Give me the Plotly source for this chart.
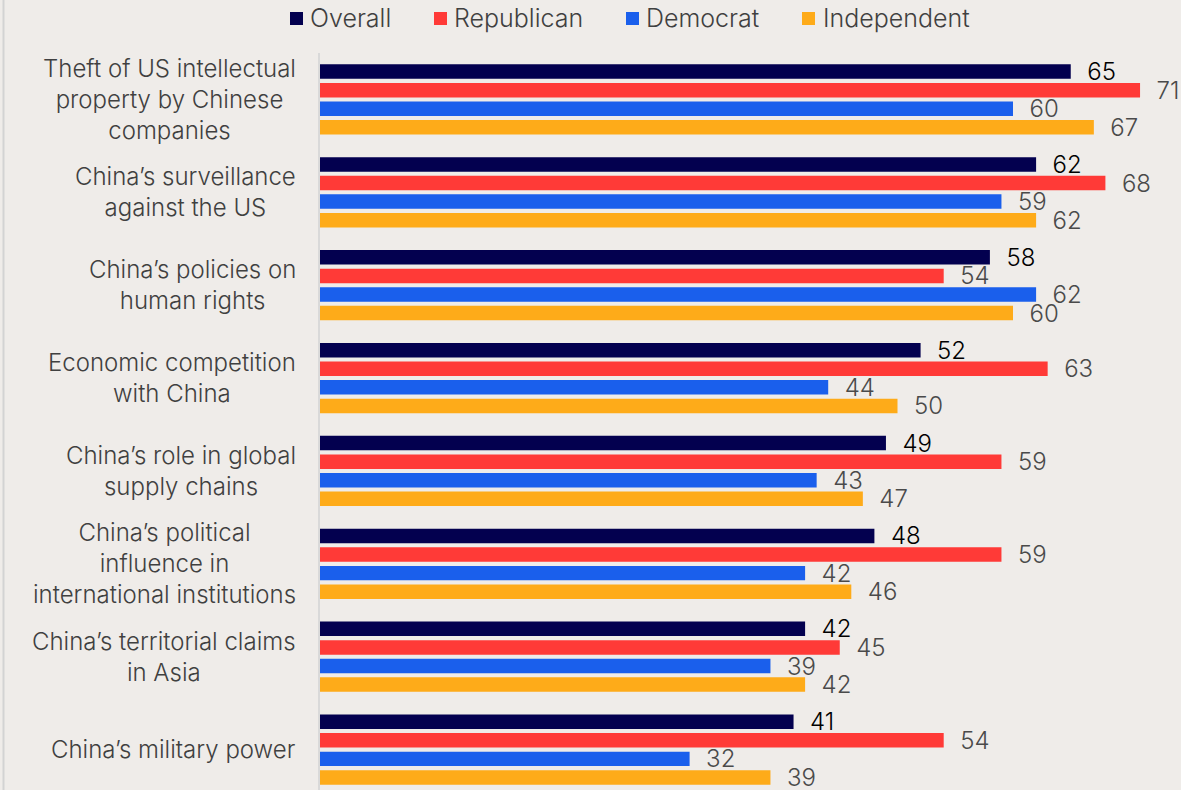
import plotly.graph_objects as go

# Survey results: share (%) seeing each issue as a major concern
categories = [
    "Theft of US intellectual<br>property by Chinese<br>companies",
    "China’s surveillance<br>against the US",
    "China’s policies on<br>human rights",
    "Economic competition<br>with China",
    "China’s role in global<br>supply chains",
    "China’s political<br>influence in<br>international institutions",
    "China’s territorial claims<br>in Asia",
    "China’s military power",
]
overall = [65, 62, 58, 52, 49, 48, 42, 41]
republican = [71, 68, 54, 63, 59, 59, 45, 54]
democrat = [60, 59, 62, 44, 43, 42, 39, 32]
independent = [67, 62, 60, 50, 47, 46, 42, 39]

series_names = ["Overall", "Republican", "Democrat", "Independent"]
series_values = [overall, republican, democrat, independent]
series_colors = ["#03004F", "#FF3A37", "#1A5FEC", "#FEAB19"]
label_colors = ["#000000", "#4A4A4A", "#4A4A4A", "#4A4A4A"]

FONT = "Inter"
WEIGHT = 300
BG = "#EFECE9"

W, H = 1181, 790
M_L, M_T = 320, 53
PLOT_W, PLOT_H = W - M_L, H - M_T

fig = go.Figure()
for name, vals, color, lc in zip(series_names, series_values, series_colors, label_colors):
    fig.add_trace(go.Bar(
        name=name,
        y=categories,
        x=vals,
        orientation="h",
        marker=dict(color=color, line=dict(width=0)),
        text=vals,
        texttemplate="\u00a0\u00a0%{x}",
        textposition="outside",
        textfont=dict(family=FONT, size=24, color=lc, weight=WEIGHT),
        constraintext="none",
        cliponaxis=False,
        showlegend=False,
        hoverinfo="skip",
    ))

# Category labels, centred line by line and right-aligned to the axis
for cat in categories:
    fig.add_annotation(
        x=0, xref="paper", y=cat, yref="y",
        text=cat, showarrow=False,
        xanchor="right", yanchor="middle", align="center",
        xshift=-22,
        font=dict(family=FONT, size=24, color="#404040", weight=WEIGHT),
    )

# Legend row along the top
def px_x(px):
    return (px - M_L) / PLOT_W

def px_y(py):
    return (H - py) / PLOT_H

legend_sq_left = [290, 434, 626, 802]
legend_text_left = [308, 452, 644, 821]
for name, color, sx, tx in zip(series_names, series_colors, legend_sq_left, legend_text_left):
    fig.add_shape(
        type="rect", xref="paper", yref="paper",
        x0=px_x(sx), x1=px_x(sx + 13), y0=px_y(25), y1=px_y(12),
        fillcolor=color, line=dict(width=0),
    )
    fig.add_annotation(
        x=px_x(tx), xref="paper", y=px_y(18), yref="paper",
        text=name, showarrow=False, xanchor="left", yanchor="middle",
        font=dict(family=FONT, size=25, color="#404040", weight=WEIGHT),
    )

# Thin frame line at the left edge
fig.add_shape(
    type="line", xref="paper", yref="paper",
    x0=px_x(3.5), x1=px_x(3.5), y0=0, y1=px_y(0),
    line=dict(color="#D3D3D3", width=2),
)

fig.update_layout(
    width=W, height=H,
    margin=dict(l=M_L, r=0, t=M_T, b=0),
    paper_bgcolor=BG, plot_bgcolor=BG,
    barmode="group", bargap=0.2, bargroupgap=0.22,
    font=dict(family=FONT, color="#404040"),
)
fig.update_xaxes(range=[0, PLOT_W / 11.55], visible=False, fixedrange=True)
fig.update_yaxes(
    range=[7 + (H - 749.6) / 92.86, -0.5],
    showticklabels=False, ticks="",
    showline=True, linecolor="#D9D9D9", linewidth=2,
    showgrid=False, zeroline=False, fixedrange=True,
)

fig.write_html("out.html")
